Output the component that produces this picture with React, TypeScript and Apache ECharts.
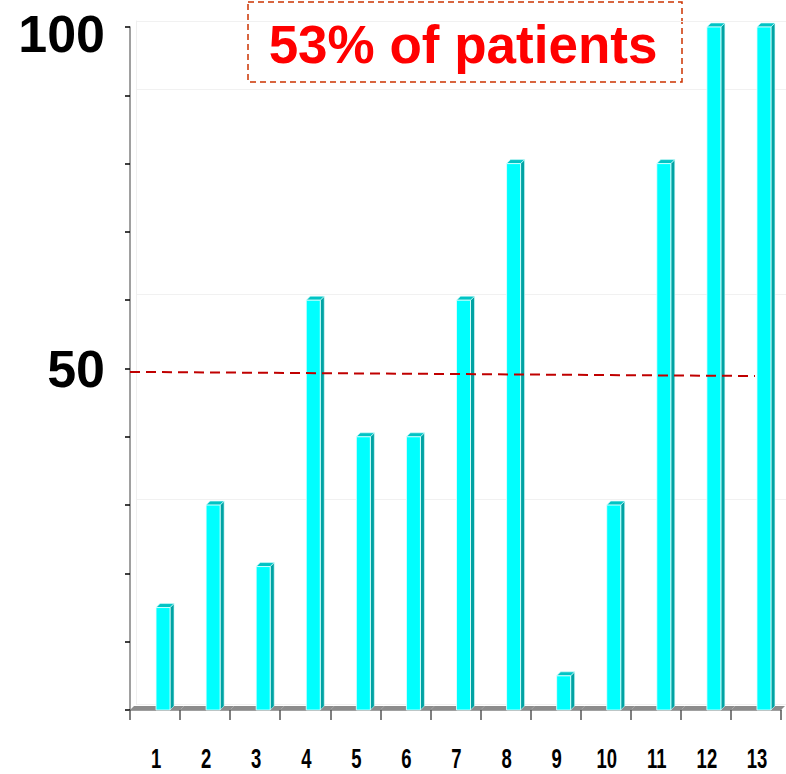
import React, { useEffect, useRef } from "react";
import * as echarts from "echarts";

const categories = ["1", "2", "3", "4", "5", "6", "7", "8", "9", "10", "11", "12", "13"];
const values = [15, 30, 21, 60, 40, 40, 60, 80, 5, 30, 80, 100, 100];
const thresholdLine = [
  [0, 49.5],
  [12.48, 48.9],
];
const yLabelsShown = [50, 100];
const annotation = "53% of patients";

export default function App() {
  const ref = useRef<HTMLDivElement>(null);
  useEffect(() => {
    document.body.style.margin = "0";
    if (!ref.current) return;
    const chart = echarts.init(ref.current, undefined, { renderer: "svg" });
    const option: any = {
      animation: false,
      backgroundColor: "#ffffff",
      grid: [
        { left: 130, right: 5, top: 27, bottom: 64 },
        { left: 136, right: -1, top: 21, bottom: 70 },
      ],
      xAxis: [
        {
          type: "category",
          data: categories,
          boundaryGap: true,
          gridIndex: 0,
          axisLine: { lineStyle: { color: "#808080", width: 1.5 } },
          axisTick: { show: true, length: 10, lineStyle: { color: "#555555", width: 1.5 } },
          axisLabel: { show: false },
        },
        {
          type: "value",
          min: 0,
          max: 13,
          gridIndex: 0,
          show: false,
        },
        {
          type: "value",
          min: 0,
          max: 13,
          gridIndex: 1,
          axisLine: { show: false },
          axisTick: { show: false },
          axisLabel: { show: false },
          splitLine: { show: false },
        },
      ],
      yAxis: [
        {
          type: "value",
          min: 0,
          max: 100,
          interval: 10,
          gridIndex: 0,
          axisLine: { show: true, lineStyle: { color: "#808080", width: 1.5 } },
          axisTick: { show: true, length: 5, lineStyle: { color: "#000", width: 1.5 } },
          splitLine: { show: false },
          axisLabel: {
            margin: 25,
            color: "#000",
            fontSize: 52,
            fontWeight: "bold",
            fontFamily: "'Liberation Sans', Arial, sans-serif",
            formatter: (v: number) => {
              if (!yLabelsShown.includes(v)) return "";
              return v === 100 ? "{t|" + v + "}" : "{n|" + v + "}";
            },
            rich: {
              t: { fontSize: 52, fontWeight: "bold", color: "#000", padding: [14, 0, 0, 0], fontFamily: "'Liberation Sans', Arial, sans-serif" },
              n: { fontSize: 52, fontWeight: "bold", color: "#000", fontFamily: "'Liberation Sans', Arial, sans-serif" },
            },
          },
        },
        {
          type: "value",
          min: 0,
          max: 100,
          interval: 30,
          gridIndex: 1,
          z: 0,
          axisLine: { show: true, lineStyle: { color: "#efefef", width: 1 } },
          axisTick: { show: false },
          axisLabel: { show: false },
          splitLine: { show: true, lineStyle: { color: "#f1f1f1", width: 1 } },
        },
      ],
      graphic: [
        {
          type: "rect",
          shape: { x: 248, y: 2, width: 434, height: 80 },
          style: { fill: "none", stroke: "#CC3300", lineWidth: 1.5, lineDash: [6, 4] },
        },
        {
          type: "text",
          x: 463,
          y: 44,
          style: {
            text: annotation,
            fill: "#FF0000",
            fontSize: 53,
            fontWeight: "bold",
            fontFamily: "'Liberation Sans', Arial, sans-serif",
            align: "center",
            verticalAlign: "middle",
          },
        },
      ],
      series: [
        {
          type: "custom",
          clip: false,
          xAxisIndex: 0,
          yAxisIndex: 0,
          data: values.map((v, i) => [i, v]),
          encode: { x: 0, y: 1 },
          renderItem: (params: any, api: any) => {
            const idx = api.value(0);
            const val = api.value(1);
            const top = api.coord([idx, val]);
            const base = api.coord([idx, 0]);
            const bw = api.size([1, 0])[0];
            const cx = top[0];
            const d = 4;
            const w = 14;
            const x0 = cx + 1;
            const y0 = base[1];
            const y1 = top[1];
            return {
              type: "group",
              children: [
                {
                  type: "polygon",
                  shape: {
                    points: [
                      [cx - bw / 2, y0],
                      [cx + bw / 2, y0],
                      [cx + bw / 2 + d, y0 - d],
                      [cx - bw / 2 + d, y0 - d],
                    ],
                  },
                  style: { fill: "#8c8c8c" },
                },
                {
                  type: "polygon",
                  shape: {
                    points: [
                      [x0 + w, y1],
                      [x0 + w + d, y1 - d],
                      [x0 + w + d, y0 - d],
                      [x0 + w, y0],
                    ],
                  },
                  style: { fill: "#00A3A3", stroke: "#d8ffff", lineWidth: 0.6 },
                },
                {
                  type: "polygon",
                  shape: {
                    points: [
                      [x0, y1],
                      [x0 + d, y1 - d],
                      [x0 + w + d, y1 - d],
                      [x0 + w, y1],
                    ],
                  },
                  style: { fill: "#00C4C4", stroke: "#d8ffff", lineWidth: 0.6 },
                },
                {
                  type: "rect",
                  shape: { x: x0, y: y1, width: w, height: y0 - y1 },
                  style: { fill: "#00FFFF", stroke: "#e8ffff", lineWidth: 0.8 },
                },
                {
                  type: "text",
                  x: cx + 1,
                  y: y0 + 49,
                  scaleX: 0.66,
                  style: {
                    text: categories[idx],
                    fill: "#000",
                    fontSize: 28,
                    fontWeight: "bold",
                    fontFamily: "'Liberation Sans', Arial, sans-serif",
                    align: "center",
                    verticalAlign: "middle",
                  },
                },
              ],
            };
          },
          z: 2,
        },
        {
          type: "line",
          xAxisIndex: 1,
          yAxisIndex: 0,
          data: thresholdLine,
          symbol: "none",
          lineStyle: { color: "#C00000", width: 2, type: [10, 6] },
          z: 5,
        },
      ],
    };
    chart.setOption(option);
    return () => chart.dispose();
  }, []);
  return <div ref={ref} style={{ width: 786, height: 774 }} />;
}
